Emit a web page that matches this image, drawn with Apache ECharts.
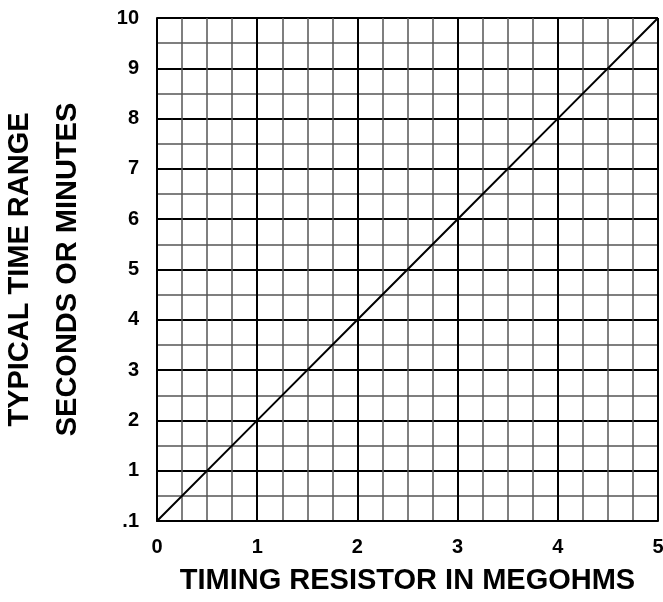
<!DOCTYPE html>
<html>
<head>
<meta charset="utf-8">
<script src="https://cdn.jsdelivr.net/npm/echarts@6/dist/echarts.min.js"></script>
<style>
  html, body { margin: 0; padding: 0; background: #fff; }
  #chart { width: 663px; height: 602px; }
</style>
</head>
<body>
<div id="chart"></div>
<script>
// values
var resistance = [0, 1, 2, 3, 4, 5];        // megohms
var timeRange = [0, 2, 4, 6, 8, 10];        // plotted position on the y scale
var yTickLabels = ['.1', '1', '2', '3', '4', '5', '6', '7', '8', '9', '10'];
var xTickLabels = ['0', '1', '2', '3', '4', '5'];

var fontFam = '"Liberation Sans", Arial, sans-serif';

var chart = echarts.init(document.getElementById('chart'));

var option = {
  animation: false,
  backgroundColor: '#fff',
  grid: { left: 157, right: 5, top: 18, bottom: 81, containLabel: false, outerBoundsMode: 'none' },
  xAxis: {
    type: 'value',
    min: 0,
    max: 5,
    interval: 1,
    name: 'TIMING RESISTOR IN MEGOHMS',
    nameLocation: 'middle',
    nameGap: 45,
    nameTextStyle: { color: '#000', fontSize: 29, fontWeight: 'bold', fontFamily: fontFam },
    axisLine: { show: true, lineStyle: { color: '#000', width: 2 } },
    axisTick: { show: false },
    axisLabel: {
      margin: 16,
      color: '#000',
      fontSize: 20,
      fontWeight: 'bold',
      fontFamily: fontFam,
      formatter: function (v) { return xTickLabels[Math.round(v)]; }
    },
    splitLine: { show: true, lineStyle: { color: '#000', width: 2 } },
    minorTick: { show: false, splitNumber: 4 },
    minorSplitLine: { show: true, lineStyle: { color: '#555', width: 1.5 } }
  },
  yAxis: {
    type: 'value',
    min: 0,
    max: 10,
    interval: 1,
    name: 'TYPICAL TIME RANGE\nSECONDS OR MINUTES',
    nameLocation: 'middle',
    nameGap: 65,
    nameTextStyle: { color: '#000', fontSize: 29, lineHeight: 48, fontWeight: 'bold', fontFamily: fontFam },
    axisLine: { show: true, lineStyle: { color: '#000', width: 2 } },
    axisTick: { show: false },
    axisLabel: {
      margin: 18,
      color: '#000',
      fontSize: 20,
      fontWeight: 'bold',
      fontFamily: fontFam,
      formatter: function (v) { return yTickLabels[Math.round(v)]; }
    },
    splitLine: { show: true, lineStyle: { color: '#000', width: 2 } },
    minorTick: { show: false, splitNumber: 2 },
    minorSplitLine: { show: true, lineStyle: { color: '#555', width: 1.5 } }
  },
  series: [{
    type: 'line',
    data: resistance.map(function (r, i) { return [r, timeRange[i]]; }),
    showSymbol: false,
    lineStyle: { color: '#000', width: 2 },
    z: 5
  }]
};

chart.setOption(option);
</script>
</body>
</html>
